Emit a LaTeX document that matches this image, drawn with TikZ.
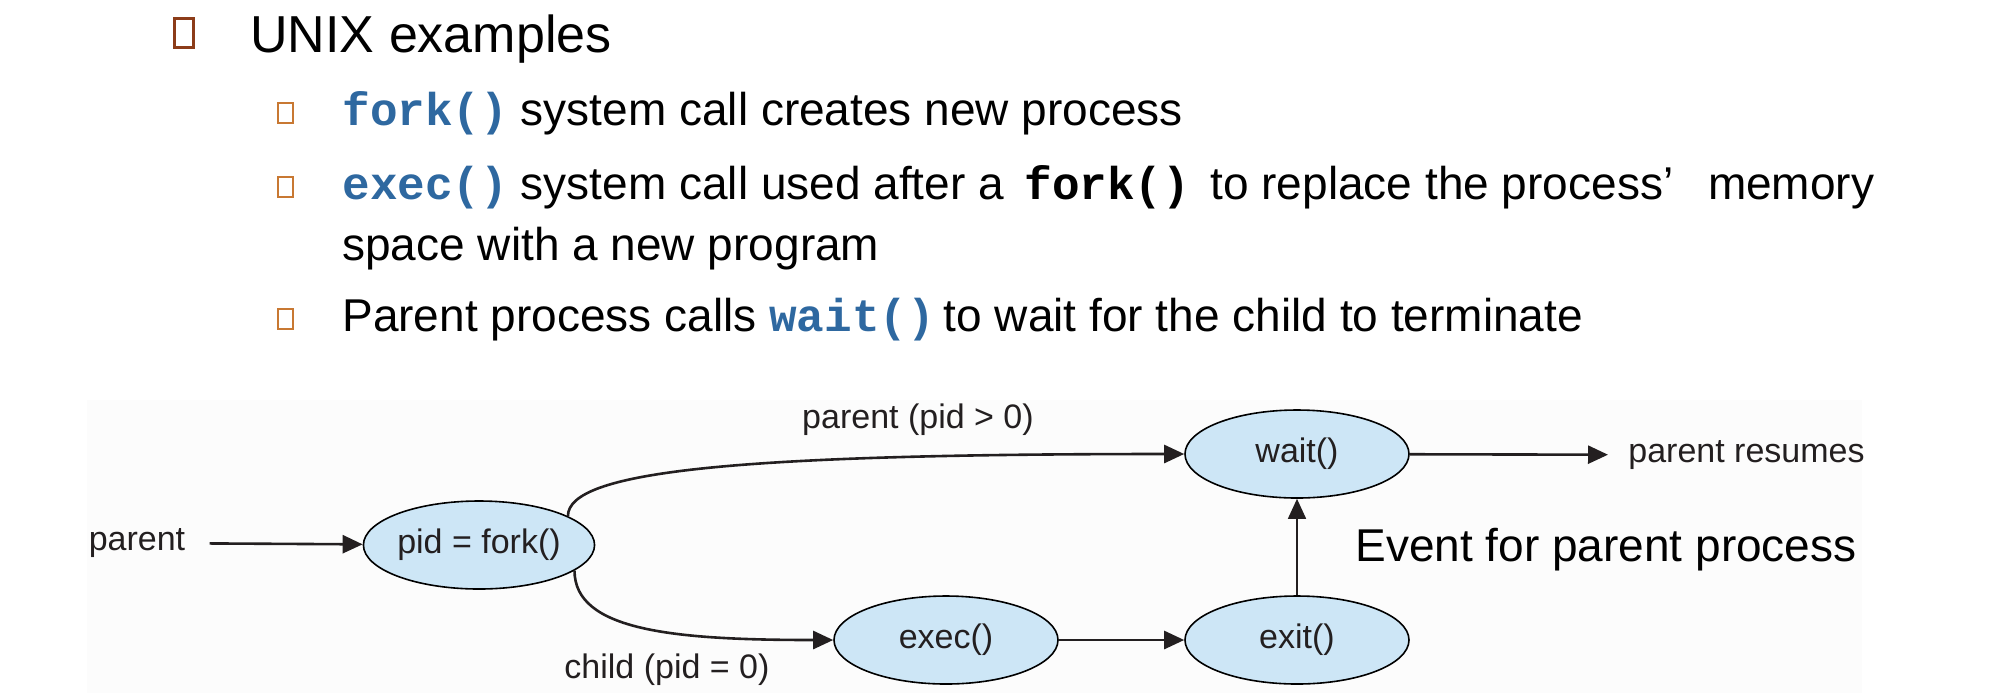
\documentclass[tikz,border=0pt]{standalone}
\usepackage{fontspec}
\setmainfont{Liberation Sans}
\newfontfamily\codefont{Liberation Mono}
\usetikzlibrary{arrows.meta,shapes.geometric}

\definecolor{bulletbrown}{RGB}{140,60,25}
\definecolor{bulletorange}{RGB}{200,120,50}
\definecolor{codeblue}{RGB}{46,104,160}
\definecolor{procfill}{RGB}{205,230,246}
\definecolor{labelgray}{RGB}{35,31,32}

\newcommand{\code}[1]{{\codefont\bfseries #1}}
\newcommand{\bluecode}[1]{{\color{codeblue}\codefont\bfseries #1}}

\tikzset{
    proc/.style={draw, ellipse, fill=procfill, line width=0.8pt,
        minimum width=112pt, minimum height=44pt, inner sep=0pt,
        font=\fontsize{17}{20}\selectfont, text=labelgray},
    lbl/.style={inner sep=0pt, font=\fontsize{17}{20}\selectfont, text=labelgray},
    flow/.style={line width=1.3pt, draw=labelgray, -{Triangle[length=10pt,width=9pt]}},
    topbullet/.style={draw=bulletbrown, line width=1.3pt, minimum width=9.5pt,
        minimum height=14.5pt, inner sep=0pt},
    subbullet/.style={draw=bulletorange, line width=1pt, minimum width=7.5pt,
        minimum height=10pt, inner sep=0pt},
    item/.style={anchor=base west, inner sep=0pt, font=\fontsize{23}{28}\selectfont}
}

\begin{document}
\begin{tikzpicture}[x=0.5pt, y=-0.5pt]
    \useasboundingbox (0,0) rectangle (2004,693);
    \fill[black!1] (87,400) rectangle (1862,693);

    % bullet list
    \node[topbullet] (b0) at (184,33) {};
    \node[item, font=\fontsize{26}{30}\selectfont] (unix) at (250,52) {UNIX examples};
    \foreach \y [count=\i] in {113,187,319}{
        \node[subbullet] (b\i) at (285.5,\y) {};
    }
    \node[item] (l1) at (342,125) {\bluecode{fork()} system call creates new process};
    \node[item] (l2) at (342,199) {\bluecode{exec()} system call used after a \,\code{fork()}\, to replace the process’\hspace{11pt} memory};
    \node[item] (l2b) at (342,260) {space with a new program};
    \node[item] (l3) at (342,331) {Parent process calls \bluecode{wait()}\hspace{-2pt} to wait for the child to terminate};

    % process diagram
    \node[lbl] (par) at (137,543) {parent};
    \node[proc] (fork) at (479,545) {pid = fork()};
    \node[proc] (wait) at (1297,454) {wait()};
    \node[proc] (exec) at (946,640) {exec()};
    \node[proc] (exit) at (1297,640) {exit()};
    \node[lbl, anchor=west] (res) at (1628,455) {parent resumes};
    \node[lbl] (plbl) at (918,420) {parent (pid > 0)};
    \node[lbl] (clbl) at (667,670) {child (pid = 0)};
    \node[lbl, font=\fontsize{23}{28}\selectfont, text=black] (event) at (1606,550) {Event for parent process};

    \draw[flow, shorten <=12pt] (par) -- (fork);
    \draw[flow] (fork.18) .. controls +(0,-45) and +(-450,0) .. (wait.west);
    \draw[flow] (fork.-15) .. controls +(0,60) and +(-160,0) .. (exec.west);
    \draw[flow] (exec) -- (exit);
    \draw[flow, line width=0.8pt] (exit) -- (wait);
    \draw[flow, shorten >=10pt] (wait) -- (res);
\end{tikzpicture}
\end{document}
